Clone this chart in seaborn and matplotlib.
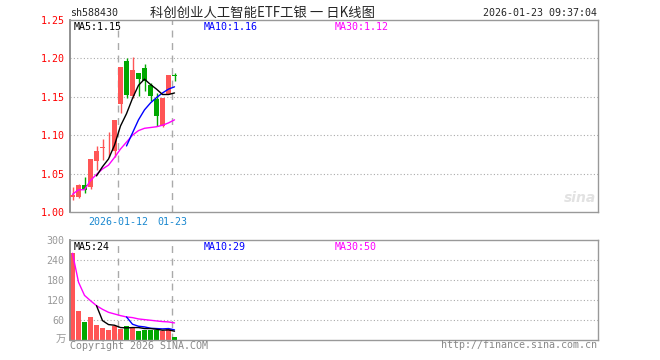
import matplotlib
matplotlib.use("Agg")
import matplotlib.pyplot as plt
import seaborn as sns
import numpy as np
import pandas as pd

nan = np.nan
# daily k-line data
days = list(range(18))
opens  = [1.019, 1.020, 1.035, 1.032, 1.067, 1.0834, 1.0840, 1.079, 1.140, 1.196, 1.151, 1.1815, 1.187, 1.1656, 1.1466, 1.1117, 1.153, 1.178]
closes = [1.0226, 1.035, 1.029, 1.069, 1.079, 1.0847, 1.0847, 1.120, 1.189, 1.152, 1.185, 1.173, 1.171, 1.1505, 1.1247, 1.1488, 1.179, 1.177]
highs  = [1.033, 1.037, 1.045, 1.069, 1.0855, 1.0955, 1.104, 1.120, 1.189, 1.201, 1.202, 1.1815, 1.1925, 1.1685, 1.1553, 1.1488, 1.179, 1.1816]
lows   = [1.016, 1.018, 1.0245, 1.030, 1.055, 1.068, 1.072, 1.072, 1.129, 1.148, 1.148, 1.151, 1.157, 1.145, 1.1117, 1.111, 1.153, 1.1706]
ma5  = [nan, nan, nan, nan, 1.047, 1.059, 1.069, 1.087, 1.112, 1.128, 1.148, 1.165, 1.173, 1.166, 1.160, 1.153, 1.153, 1.155]
ma10 = [nan] * 9 + [1.086, 1.103, 1.120, 1.133, 1.142, 1.149, 1.155, 1.160, 1.163]
ma30 = [1.023, 1.029, 1.029, 1.041, 1.049, 1.056, 1.061, 1.071, 1.082, 1.091, 1.100, 1.106, 1.109, 1.110, 1.111, 1.113, 1.116, 1.120]

volume  = [260, 86, 53, 67, 43, 35, 28, 42, 31, 40, 39, 26, 28, 30, 30, 27, 33, 8]
vol_ma5  = [nan, nan, nan, nan, 102, 57, 45, 43, 36, 35, 36, 36, 33, 33, 31, 28, 29, 25]
vol_ma10 = [nan] * 9 + [68, 46, 40, 38, 34, 33, 32, 33, 29]
vol_ma30 = [260, 173, 133, 117, 102, 91, 82, 77, 72, 68, 66, 62, 60, 58, 56, 54, 53, 50]

price_ticks = [1.00, 1.05, 1.10, 1.15, 1.20, 1.25]
vol_ticks = [60, 120, 180, 240, 300]
date_marks = {8: "2026-01-12", 17: "01-23"}

RED = "#ff5555"
GREEN = "#00a800"
GRID = "#aaaaaa"
MONO = "DejaVu Sans Mono"

sns.set_style("white")
plt.rcParams["font.family"] = ["Noto Sans CJK SC", "DejaVu Sans"]

fig = plt.figure(figsize=(6.6, 3.6), dpi=100)
ax = fig.add_axes([70 / 660, 1 - 212 / 360, 528 / 660, 192 / 360])
vax = fig.add_axes([70 / 660, 1 - 339.5 / 360, 528 / 660, 99.5 / 360])

df = pd.DataFrame({"day": days, "open": opens, "close": closes, "high": highs, "low": lows,
                   "ma5": ma5, "ma10": ma10, "ma30": ma30, "vol": volume,
                   "vma5": vol_ma5, "vma10": vol_ma10, "vma30": vol_ma30})
colors = [RED if c >= o else GREEN for o, c in zip(df["open"], df["close"])]

xlim = (-2.5 / 6, 525.5 / 6)

for a in (ax, vax):
    for s in a.spines.values():
        s.set_color("#999999")
        s.set_linewidth(1.0)
    a.spines["left"].set_color("#888888")
    a.spines["left"].set_linewidth(1.3)
    a.set_xlim(*xlim)
    a.set_xticks([])
    a.tick_params(axis="y", length=0, pad=4)

# --- price panel
ax.set_ylim(1.0, 1.25)
for y in price_ticks[1:-1]:
    ax.axhline(y, color=GRID, lw=0.8, ls=(0, (1, 2)), zorder=0)
for d in date_marks:
    ax.axvline(d - 0.4, color=GRID, lw=1.0, ls=(0, (5, 4)), zorder=0)
    vax.axvline(d - 0.4, color=GRID, lw=1.0, ls=(0, (5, 4)), zorder=0)

ax.vlines(df["day"], df["low"], df["high"], colors=colors, lw=1.0, zorder=2)
body = (df["close"] - df["open"]).abs().clip(lower=0.0012)
ax.bar(df["day"], body, bottom=df[["open", "close"]].min(axis=1), width=0.82,
       color=colors, zorder=3, linewidth=0)

sns.lineplot(data=df, x="day", y="ma30", ax=ax, color="#ff00ff", lw=1.0, zorder=4)
sns.lineplot(data=df, x="day", y="ma10", ax=ax, color="#0000ff", lw=1.0, zorder=4)
sns.lineplot(data=df, x="day", y="ma5", ax=ax, color="black", lw=1.0, zorder=4)

ax.set_yticks(price_ticks)
ax.set_yticklabels([f"{t:.2f}" for t in price_ticks], color="red", family=MONO, fontsize=7.2)
ax.set_xlabel("")
ax.set_ylabel("")
ax.set_xlim(*xlim)

# --- volume panel
vax.set_ylim(0, 300)
for y in vol_ticks[:-1]:
    vax.axhline(y, color=GRID, lw=0.8, ls=(0, (1, 2)), zorder=0)
vax.bar(df["day"], df["vol"], width=0.82, color=colors, zorder=2, linewidth=0)
sns.lineplot(data=df, x="day", y="vma30", ax=vax, color="#ff00ff", lw=1.0, zorder=4)
sns.lineplot(data=df, x="day", y="vma10", ax=vax, color="#0000ff", lw=1.0, zorder=4)
sns.lineplot(data=df, x="day", y="vma5", ax=vax, color="black", lw=1.0, zorder=4)
vax.set_yticks(vol_ticks)
vax.set_yticklabels([str(t) for t in vol_ticks], color="#999999", family=MONO, fontsize=7.2)
vax.set_xlabel("")
vax.set_ylabel("")
vax.set_xlim(*xlim)

# --- texts
def px(x, y, s, **kw):
    fig.text(x / 660, 1 - y / 360, s, **kw)

px(70, 13, "sh588430", family=MONO, fontsize=7.2, va="center", ha="left")
px(262, 13, "科创创业人工智能ETF工银 一 日K线图", fontsize=9.6, va="center", ha="center")
px(597, 13, "2026-01-23 09:37:04", family=MONO, fontsize=7.2, va="center", ha="right")

for y, labels in ((27, ("MA5:1.15", "MA10:1.16", "MA30:1.12")), (247, ("MA5:24", "MA10:29", "MA30:50"))):
    px(74, y, labels[0], family=MONO, fontsize=7.2, va="center", color="black")
    px(204, y, labels[1], family=MONO, fontsize=7.2, va="center", color="#0000ff")
    px(335, y, labels[2], family=MONO, fontsize=7.2, va="center", color="#ff00ff")

for d, lab in date_marks.items():
    x = 72.5 + 6 * (d - 0.4)
    px(x, 222, lab, family=MONO, fontsize=7.2, va="center", ha="center", color="#1a88d0")

px(66, 340, "万", fontsize=7.5, va="center", ha="right", color="#999999")
px(70, 346, "Copyright 2026 SINA.COM", family=MONO, fontsize=7.2, va="center", ha="left", color="#888888")
px(597, 345, "http://finance.sina.com.cn", family=MONO, fontsize=7.2, va="center", ha="right", color="#888888")
px(580, 198, "sina", fontsize=10, style="italic", weight="bold", va="center", ha="center",
   color="#e2e2e2", family="DejaVu Sans")

fig.savefig("out.png", dpi=100)
